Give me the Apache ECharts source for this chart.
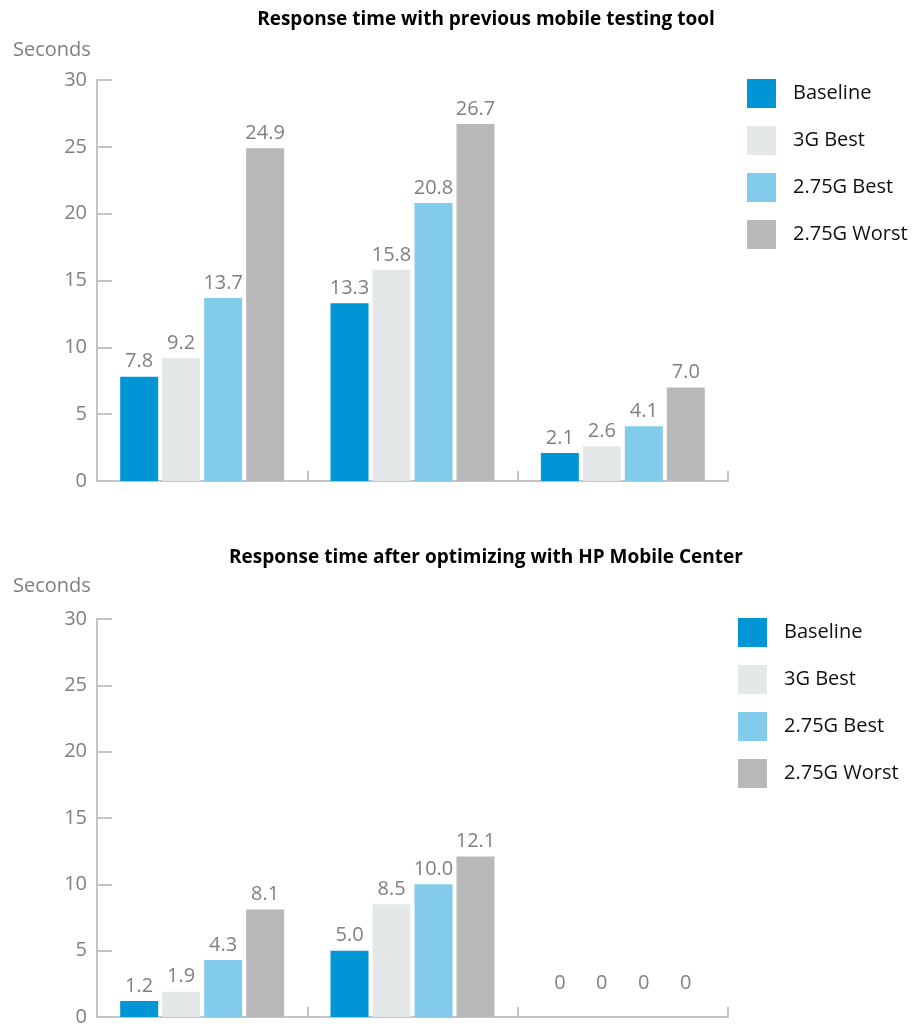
<!DOCTYPE html>
<html>
<head>
<meta charset="utf-8">
<script src="https://cdn.jsdelivr.net/npm/echarts@6/dist/echarts.min.js"></script>
<style>
html,body{margin:0;padding:0;background:#fff;}
#chart{width:923px;height:1027px;}
</style>
</head>
<body>
<div id="chart"></div>
<script>
// ---- data ----
const categories = ['Group 1', 'Group 2', 'Group 3'];
const seriesNames = ['Baseline', '3G Best', '2.75G Best', '2.75G Worst'];
const titleTop = 'Response time with previous mobile testing tool';
const titleBottom = 'Response time after optimizing with HP Mobile Center';
const yAxisName = 'Seconds';
const yTicks = [0, 5, 10, 15, 20, 25, 30];

const beforeBaseline = [7.8, 13.3, 2.1];
const before3GBest = [9.2, 15.8, 2.6];
const before275GBest = [13.7, 20.8, 4.1];
const before275GWorst = [24.9, 26.7, 7.0];

const afterBaseline = [1.2, 5.0, 0];
const after3GBest = [1.9, 8.5, 0];
const after275GBest = [4.3, 10.0, 0];
const after275GWorst = [8.1, 12.1, 0];

// ---- styling ----
const colors = ['#0096d6', '#e4e8e9', '#83cbeb', '#b8b8ba'];
const FONT = '"Open Sans", "Noto Sans", sans-serif';
const axisColor = '#c4c4c4';
const labelColor = '#808080';

function fmt(v) { return v === 0 ? '0' : v.toFixed(1); }

function makeSeries(values, idx, gridIdx) {
  return {
    type: 'bar',
    name: seriesNames[idx],
    xAxisIndex: gridIdx,
    yAxisIndex: gridIdx,
    barWidth: 38,
    barGap: '10.5%',
    itemStyle: { color: colors[idx] },
    label: {
      show: true,
      position: 'top',
      distance: 5,
      color: labelColor,
      fontFamily: FONT,
      fontSize: 20,
      formatter: p => fmt(p.value)
    },
    data: values.map(v => v === 0 ? { value: v, label: { distance: 24 } } : v)
  };
}

function xAxis(gridIdx) {
  return {
    type: 'category',
    gridIndex: gridIdx,
    data: categories,
    axisLine: { lineStyle: { color: axisColor, width: 2 } },
    axisTick: { show: true, inside: true, length: 10, lineStyle: { color: axisColor, width: 2 } },
    axisLabel: { show: false },
    splitLine: { show: false }
  };
}
function yAxis(gridIdx) {
  return {
    type: 'value',
    gridIndex: gridIdx,
    min: yTicks[0],
    max: yTicks[yTicks.length - 1],
    interval: 5,
    axisLine: { show: true, lineStyle: { color: axisColor, width: 2 } },
    axisTick: { show: true, inside: true, length: 15, lineStyle: { color: axisColor, width: 2 } },
    axisLabel: { color: labelColor, fontFamily: FONT, fontSize: 20, margin: 10 },
    splitLine: { show: false }
  };
}

function legend(top, left) {
  return {
    orient: 'vertical',
    left: left,
    top: top,
    padding: 0,
    icon: 'rect',
    itemWidth: 29,
    itemHeight: 29,
    itemGap: 18,
    data: seriesNames,
    textStyle: { color: '#111', fontFamily: FONT, fontSize: 20, padding: [0, 0, 0, 12] }
  };
}

const chart = echarts.init(document.getElementById('chart'));
chart.setOption({
  animation: false,
  title: [
    { text: titleTop, left: 481, top: 5, textAlign: 'center',
      textStyle: { fontFamily: FONT, fontWeight: 'bold', fontSize: 19, color: '#000' } },
    { text: titleBottom, left: 481, top: 543, textAlign: 'center',
      textStyle: { fontFamily: FONT, fontWeight: 'bold', fontSize: 19, color: '#000' } },
    { text: yAxisName, left: 8, top: 35,
      textStyle: { fontFamily: FONT, fontWeight: 'normal', fontSize: 20, color: labelColor } },
    { text: yAxisName, left: 8, top: 571,
      textStyle: { fontFamily: FONT, fontWeight: 'normal', fontSize: 20, color: labelColor } }
  ],
  legend: [legend(79, 747), legend(618, 738)],
  grid: [
    { left: 97, right: 195, top: 80, height: 401 },
    { left: 97, right: 195, top: 619, height: 401 }
  ],
  xAxis: [xAxis(0), xAxis(1)],
  yAxis: [yAxis(0), yAxis(1)],
  series: [
    makeSeries(beforeBaseline, 0, 0),
    makeSeries(before3GBest, 1, 0),
    makeSeries(before275GBest, 2, 0),
    makeSeries(before275GWorst, 3, 0),
    makeSeries(afterBaseline, 0, 1),
    makeSeries(after3GBest, 1, 1),
    makeSeries(after275GBest, 2, 1),
    makeSeries(after275GWorst, 3, 1)
  ]
});
</script>
</body>
</html>
